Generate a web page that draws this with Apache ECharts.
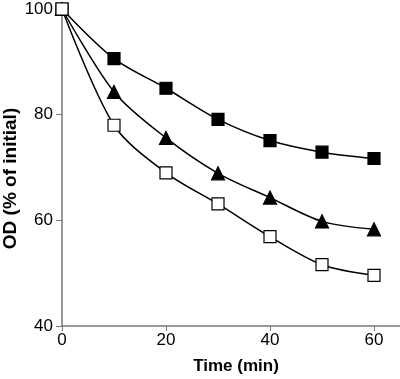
<!DOCTYPE html>
<html>
<head>
<meta charset="utf-8">
<script src="https://cdn.jsdelivr.net/npm/echarts@6/dist/echarts.min.js"></script>
<style>
  html, body { margin: 0; padding: 0; background: #fff; }
  #chart { width: 400px; height: 379px; }
</style>
</head>
<body>
<div id="chart"></div>
<script>
// time points (min)
const times = [0, 10, 20, 30, 40, 50, 60]
// OD, % of initial
const filledSquare = [100, 90.6, 85.0, 79.1, 75.1, 72.9, 71.7]
const filledTriangle = [100, 84.3, 75.6, 68.9, 64.3, 59.8, 58.3]
const openSquare = [100, 78.0, 69.0, 63.1, 56.9, 51.6, 49.6]
const xTicks = [0, 20, 40, 60]

const toPairs = (ys) => times.map((t, i) => [t, ys[i]])

const chart = echarts.init(document.getElementById('chart'))

const lineSeries = (data, symbol, fill, size) => ({
  type: 'line',
  data: toPairs(data),
  smooth: 0.3,
  symbol: symbol,
  symbolSize: size,
  showAllSymbol: true,
  lineStyle: { color: '#000', width: 1.5 },
  itemStyle: { color: fill, borderColor: '#000', borderWidth: 1.2 },
  z: 3
})

chart.setOption({
  animation: false,
  grid: { left: 62, right: 0, top: 9, bottom: 53, containLabel: false, outerBoundsMode: 'none' },
  xAxis: {
    type: 'value',
    min: 0,
    max: 65,
    interval: 20,
    name: 'Time (min)',
    nameLocation: 'middle',
    nameGap: 32,
    nameMoveOverlap: false,
    nameTextStyle: { color: '#000', fontWeight: 'bold', fontSize: 17, fontFamily: 'Liberation Sans', padding: [0, 0, 0, 10] },
    axisLine: { lineStyle: { color: '#777', width: 1.5 } },
    axisTick: { show: true, length: 5, lineStyle: { color: '#777' }, customValues: xTicks },
    axisLabel: { color: '#000', fontSize: 17, fontFamily: 'Liberation Sans', margin: 6, customValues: xTicks },
    splitLine: { show: false }
  },
  yAxis: {
    type: 'value',
    min: 40,
    max: 100,
    interval: 20,
    name: 'OD (% of initial)',
    nameLocation: 'middle',
    nameGap: 42,
    nameMoveOverlap: false,
    nameTextStyle: { color: '#000', fontWeight: 'bold', fontSize: 19, fontFamily: 'Liberation Sans', padding: [0, 22, 0, 0] },
    axisLine: { show: true, lineStyle: { color: '#777', width: 1.5 } },
    axisTick: { show: true, length: 6, lineStyle: { color: '#777' } },
    axisLabel: { color: '#000', fontSize: 17, fontFamily: 'Liberation Sans', margin: 9 },
    splitLine: { show: false }
  },
  series: [
    lineSeries(filledSquare, 'rect', '#000', 12),
    lineSeries(filledTriangle, 'triangle', '#000', 13),
    lineSeries(openSquare, 'rect', '#fff', 12)
  ]
})
</script>
</body>
</html>
